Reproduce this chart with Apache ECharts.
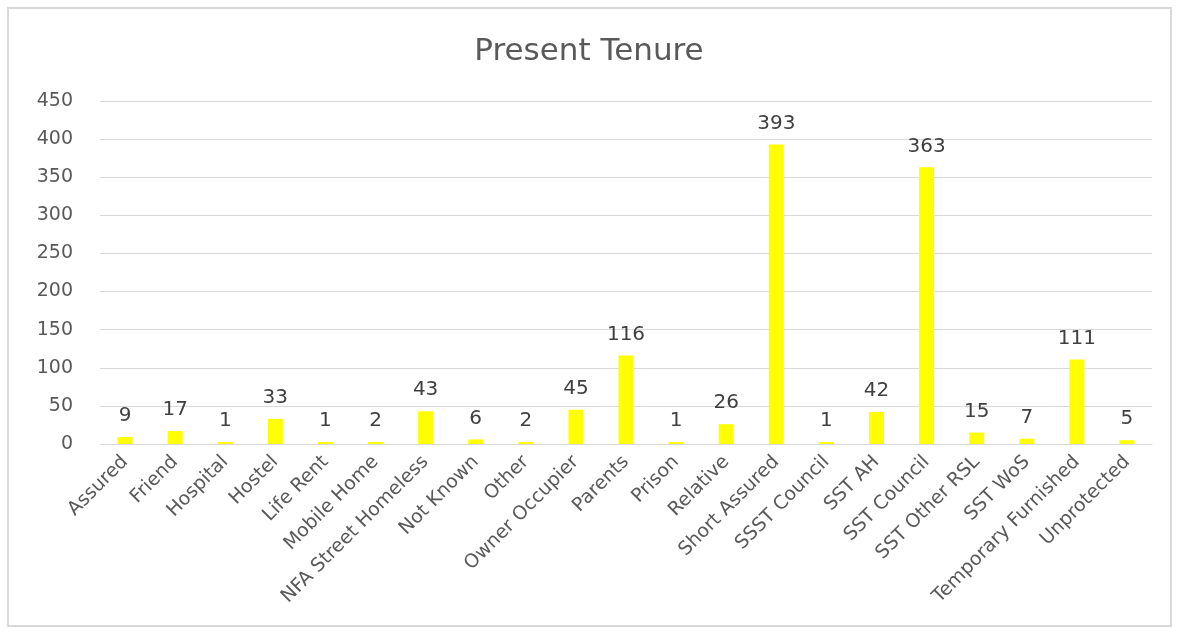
<!DOCTYPE html>
<html>
<head>
<meta charset="utf-8">
<script src="https://cdn.jsdelivr.net/npm/echarts@6/dist/echarts.min.js"></script>
<style>
  html, body { margin: 0; padding: 0; background: #fff; }
  #chart { width: 1178px; height: 628px; }
</style>
</head>
<body>
<div id="chart"></div>
<script>
// 类目
const categories = [
  'Assured', 'Friend', 'Hospital', 'Hostel', 'Life Rent', 'Mobile Home',
  'NFA Street Homeless', 'Not Known', 'Other', 'Owner Occupier', 'Parents',
  'Prison', 'Relative', 'Short Assured', 'SSST Council', 'SST AH', 'SST Council',
  'SST Other RSL', 'SST WoS', 'Temporary Furnished', 'Unprotected'
]
// 数值
const counts = [9, 17, 1, 33, 1, 2, 43, 6, 2, 45, 116, 1, 26, 393, 1, 42, 363, 15, 7, 111, 5]
// 纵轴刻度
const yTicks = [0, 50, 100, 150, 200, 250, 300, 350, 400, 450]

const chart = echarts.init(document.getElementById('chart'))
chart.setOption({
  backgroundColor: '#fff',
  textStyle: { fontFamily: 'DejaVu Sans' },
  graphic: [{
    type: 'rect',
    shape: { x: 8, y: 8, width: 1163, height: 618 },
    style: { fill: 'none', stroke: '#d9d9d9', lineWidth: 2 },
    silent: true
  }],
  title: {
    text: 'Present Tenure',
    left: 'center',
    top: 31,
    textStyle: { color: '#595959', fontSize: 31, fontWeight: 'normal', fontFamily: 'DejaVu Sans' }
  },
  grid: { left: 100, right: 26, top: 101, bottom: 184, containLabel: false },
  xAxis: {
    type: 'category',
    data: categories,
    axisTick: { show: false },
    axisLine: { lineStyle: { color: '#d9d9d9' } },
    axisLabel: {
      rotate: 45,
      interval: 0,
      color: '#595959',
      fontSize: 19,
      margin: 15
    }
  },
  yAxis: {
    type: 'value',
    min: yTicks[0],
    max: yTicks[yTicks.length - 1],
    interval: 50,
    axisLine: { show: false },
    axisTick: { show: false },
    axisLabel: { color: '#595959', fontSize: 19, margin: 27 },
    splitLine: { lineStyle: { color: '#d9d9d9' } }
  },
  series: [{
    type: 'bar',
    data: counts,
    barWidth: 15,
    barMinHeight: 2,
    itemStyle: { color: '#ffff00' },
    label: {
      show: true,
      position: 'top',
      distance: 11,
      color: '#404040',
      fontSize: 20
    }
  }]
})
</script>
</body>
</html>
